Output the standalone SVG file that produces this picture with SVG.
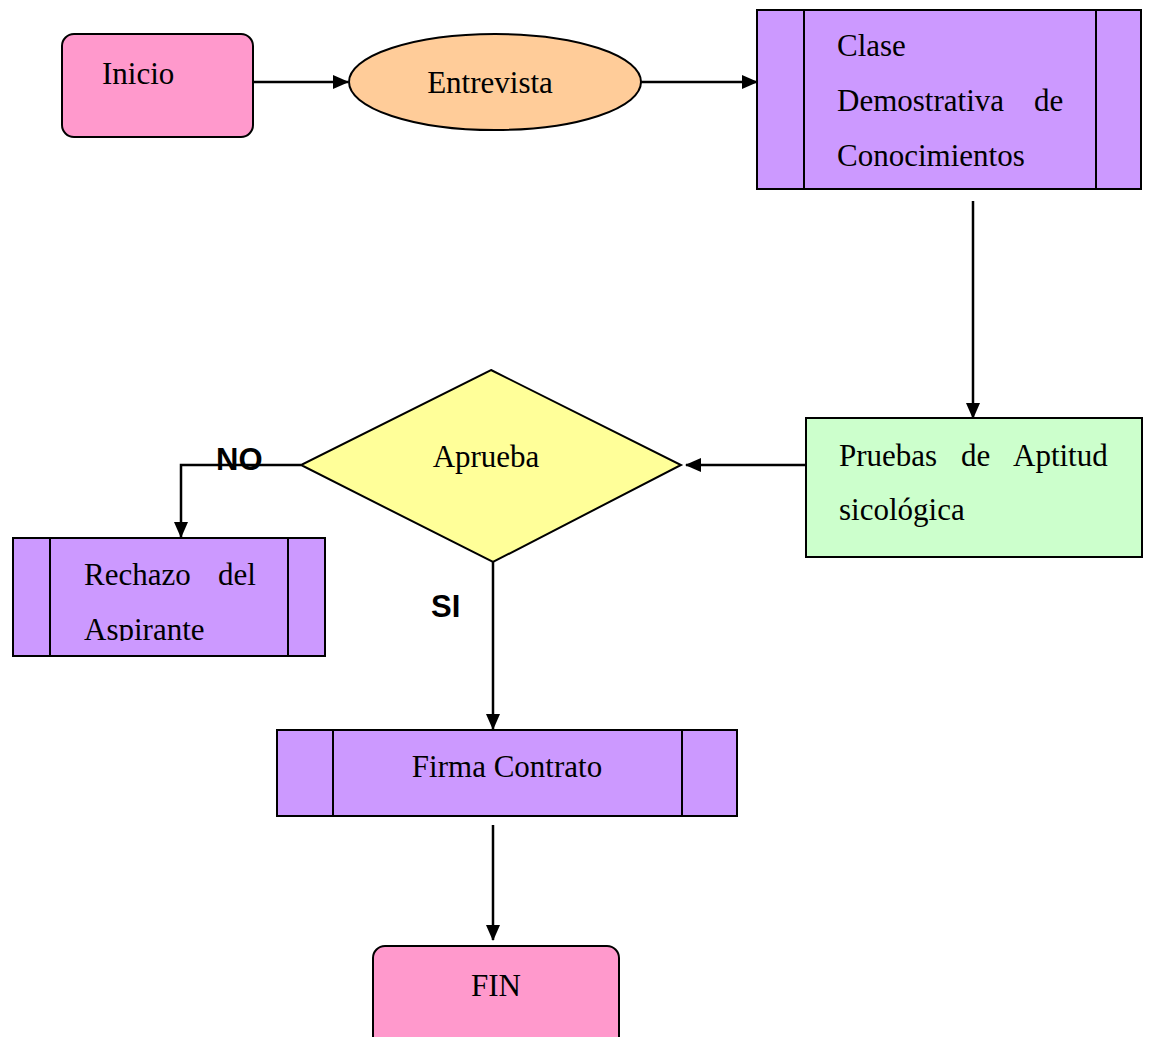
<svg xmlns="http://www.w3.org/2000/svg" width="1151" height="1037" viewBox="0 0 1151 1037">
<style>
.n{stroke:#000;stroke-width:2}
.t{font-family:"Liberation Serif","Times New Roman",serif;font-size:31px;fill:#000}
.b{font-family:"Liberation Sans",Arial,sans-serif;font-size:31px;font-weight:bold;fill:#000}
.c{fill:none;stroke:#000;stroke-width:2.5}
.v{stroke:#000;stroke-width:2}
</style>
<defs>
<marker id="ah" markerWidth="16" markerHeight="14" refX="15" refY="7" orient="auto" markerUnits="userSpaceOnUse">
<path d="M0,0 L16,7 L0,14 Z" fill="#000"/>
</marker>
<clipPath id="clipR"><rect x="13" y="538" width="313" height="103"/></clipPath>
</defs>
<rect width="1151" height="1037" fill="#fff"/>
<g id="connectors">
<line class="c" x1="253" y1="82" x2="348" y2="82" marker-end="url(#ah)"/>
<line class="c" x1="637" y1="82" x2="757" y2="82" marker-end="url(#ah)"/>
<line class="c" x1="973" y1="201" x2="973" y2="418" marker-end="url(#ah)"/>
<line class="c" x1="806" y1="465" x2="686" y2="465" marker-end="url(#ah)"/>
<polyline class="c" points="301,465 181,465 181,537" marker-end="url(#ah)"/>
<line class="c" x1="493" y1="562" x2="493" y2="729" marker-end="url(#ah)"/>
<line class="c" x1="493" y1="825" x2="493" y2="940" marker-end="url(#ah)"/>
<text class="b" x="216" y="470">NO</text>
<text class="b" x="431" y="617">SI</text>
</g>
<g id="inicio">
<rect class="n" x="62" y="34" width="191" height="103" rx="12" fill="#ff99cc"/>
<text class="t" x="102" y="84">Inicio</text>
</g>
<g id="entrevista">
<ellipse class="n" cx="495" cy="82" rx="146" ry="48" fill="#ffcc99"/>
<text class="t" x="490" y="93" text-anchor="middle">Entrevista</text>
</g>
<g id="clase">
<rect class="n" x="757" y="10" width="384" height="179" fill="#cc99ff"/>
<line class="v" x1="804" y1="10" x2="804" y2="189"/>
<line class="v" x1="1096" y1="10" x2="1096" y2="189"/>
<text class="t" x="837" y="56">Clase</text>
<text class="t" y="111"><tspan x="837">Demostrativa</tspan><tspan x="1034">de</tspan></text>
<text class="t" x="837" y="166">Conocimientos</text>
</g>
<g id="pruebas">
<rect class="n" x="806" y="418" width="336" height="139" fill="#ccffcc"/>
<text class="t" y="466"><tspan x="839">Pruebas</tspan><tspan x="961">de</tspan><tspan x="1013">Aptitud</tspan></text>
<text class="t" x="839" y="520">sicológica</text>
</g>
<g id="aprueba">
<polygon class="n" points="491,370 681,465 493,562 301,465" fill="#ffff99"/>
<text class="t" x="486" y="467" text-anchor="middle">Aprueba</text>
</g>
<g id="rechazo">
<rect class="n" x="13" y="538" width="312" height="118" fill="#cc99ff"/>
<line class="v" x1="50" y1="538" x2="50" y2="656"/>
<line class="v" x1="288" y1="538" x2="288" y2="656"/>
<text class="t" y="585"><tspan x="84">Rechazo</tspan><tspan x="218">del</tspan></text>
<text class="t" x="84" y="640" clip-path="url(#clipR)">Aspirante</text>
</g>
<g id="firma">
<rect class="n" x="277" y="730" width="460" height="86" fill="#cc99ff"/>
<line class="v" x1="333" y1="730" x2="333" y2="816"/>
<line class="v" x1="682" y1="730" x2="682" y2="816"/>
<text class="t" x="507" y="777" text-anchor="middle">Firma Contrato</text>
</g>
<g id="fin">
<rect class="n" x="373" y="946" width="246" height="110" rx="12" fill="#ff99cc"/>
<text class="t" x="496" y="996" text-anchor="middle">FIN</text>
</g>
</svg>
